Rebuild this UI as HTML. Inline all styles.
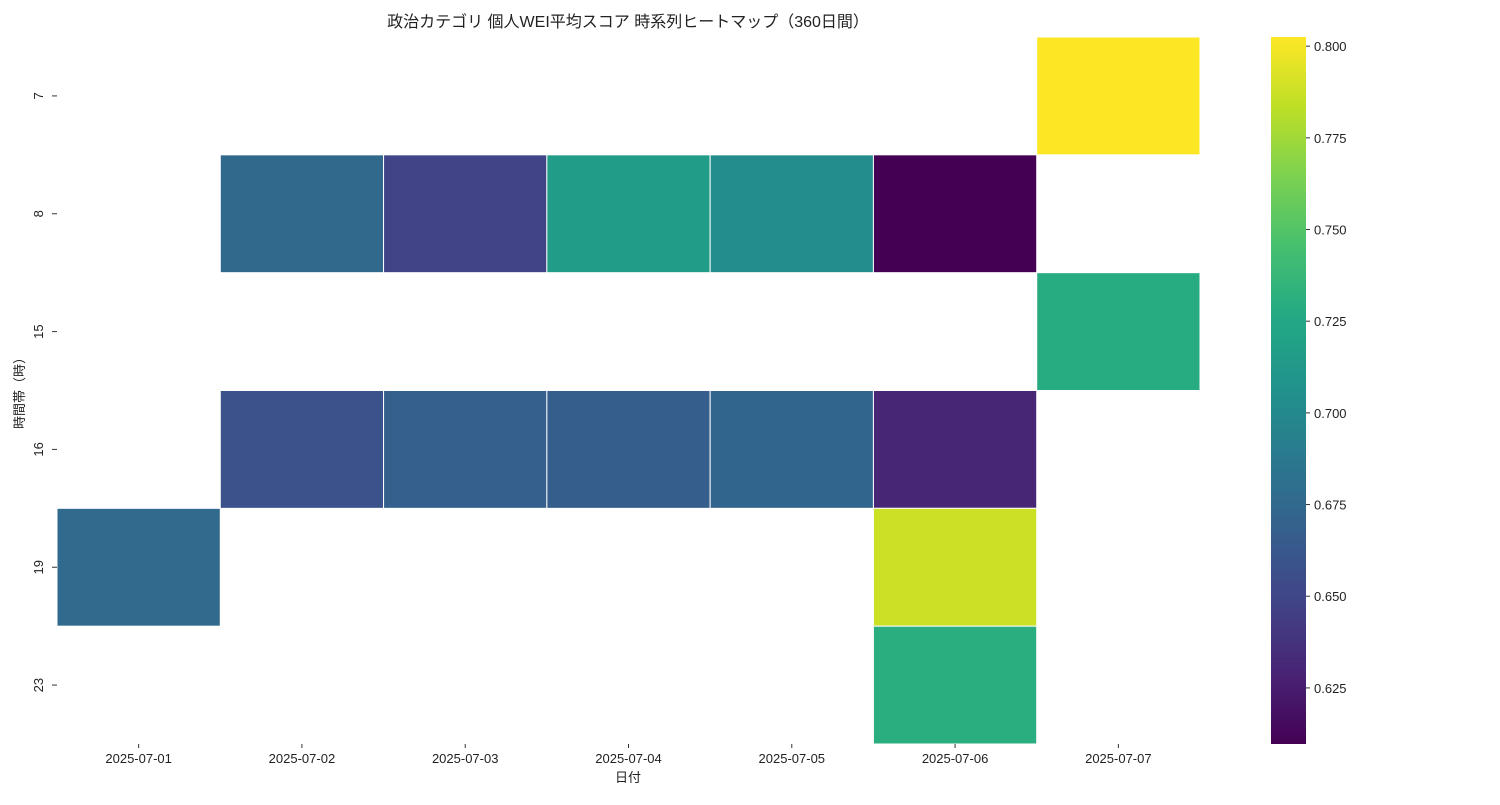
<!DOCTYPE html>
<html><head><meta charset="utf-8">
<style>
body{margin:0;background:#fff;font-family:"Liberation Sans","Noto Sans CJK JP",sans-serif;}
svg text{font-family:"Liberation Sans","Noto Sans CJK JP",sans-serif;fill:#222;}
</style></head>
<body>
<svg id="chart" width="1500" height="800" xmlns="http://www.w3.org/2000/svg">
<defs>
<linearGradient id="vir" x1="0" y1="1" x2="0" y2="0">
<stop offset="0" stop-color="#440154"/><stop offset="0.1" stop-color="#482475"/><stop offset="0.2" stop-color="#414487"/><stop offset="0.3" stop-color="#355f8d"/><stop offset="0.4" stop-color="#2a788e"/><stop offset="0.5" stop-color="#21918c"/><stop offset="0.6" stop-color="#22a884"/><stop offset="0.7" stop-color="#44bf70"/><stop offset="0.8" stop-color="#7ad151"/><stop offset="0.9" stop-color="#bddf26"/><stop offset="1" stop-color="#fde725"/>
</linearGradient>
</defs>
<text x="628" y="27" font-size="16" text-anchor="middle">政治カテゴリ 個人WEI平均スコア 時系列ヒートマップ（360日間）</text>
<g id="cells"></g>
<g id="axes"></g>
<text x="628" y="782" font-size="13" text-anchor="middle">日付</text>
<text transform="translate(24,390) rotate(-90)" font-size="13" text-anchor="middle">時間帯（時）</text>
<rect x="1271" y="37" width="35" height="707" fill="url(#vir)"/>
<g id="cbar"></g>
</svg>
<script>
const dates=["2025-07-01","2025-07-02","2025-07-03","2025-07-04","2025-07-05","2025-07-06","2025-07-07"];
const hours=["7","8","15","16","19","23"];
const cellDate=[6,1,2,3,4,5,6,1,2,3,4,5,0,5,5];
const cellHour=[0,1,1,1,1,1,2,3,3,3,3,3,4,4,5];
const cellVal=[0.8025,0.675,0.648,0.715,0.703,0.6097,0.728,0.658,0.668,0.667,0.672,0.630,0.676,0.787,0.730];
const cbarTicks=[0.625,0.650,0.675,0.700,0.725,0.750,0.775,0.800];
const vmin=0.6097,vmax=0.8025;
const X0=57,X1=1200,Y0=37,Y1=744;
const cw=(X1-X0)/dates.length,ch=(Y1-Y0)/hours.length;
const xs=i=>X0+i*cw, ys=j=>Y0+j*ch;
const cy=v=>Y1-(v-vmin)/(vmax-vmin)*(Y1-Y0);
const stops=["#440154","#482475","#414487","#355f8d","#2a788e","#21918c","#22a884","#44bf70","#7ad151","#bddf26","#fde725"];
function hex(h){return [1,3,5].map(i=>parseInt(h.substr(i,2),16));}
function color(v){let t=Math.max(0,Math.min(1,(v-vmin)/(vmax-vmin)))*10;let i=Math.min(9,Math.floor(t)),f=t-i;const a=hex(stops[i]),b=hex(stops[i+1]);return "rgb("+a.map((c,k)=>Math.round(c+(b[k]-c)*f)).join(",")+")";}
const NS="http://www.w3.org/2000/svg";
const cells=document.getElementById("cells"),axes=document.getElementById("axes"),cb=document.getElementById("cbar");
cellVal.forEach((v,k)=>{const r=document.createElementNS(NS,"rect");


r.setAttribute("x",xs(cellDate[k]));r.setAttribute("y",ys(cellHour[k]));r.setAttribute("width",cw);r.setAttribute("height",ch);r.setAttribute("fill",color(v));r.setAttribute("stroke","#fff");r.setAttribute("stroke-width","1");cells.appendChild(r);});
dates.forEach((d,i)=>{const t=document.createElementNS(NS,"text");


t.setAttribute("x",xs(i)+cw/2);t.setAttribute("y",763);t.setAttribute("font-size","13");t.setAttribute("text-anchor","middle");t.textContent=d;axes.appendChild(t);
const l=document.createElementNS(NS,"line");


l.setAttribute("x1",xs(i)+cw/2);l.setAttribute("x2",xs(i)+cw/2);l.setAttribute("y1",744);l.setAttribute("y2",748);l.setAttribute("stroke","#333");axes.appendChild(l);});
hours.forEach((h,j)=>{const y=ys(j)+ch/2;const t=document.createElementNS(NS,"text");


t.setAttribute("transform","translate(43,"+y+") rotate(-90)");t.setAttribute("font-size","13");t.setAttribute("text-anchor","middle");t.textContent=h;axes.appendChild(t);
const l=document.createElementNS(NS,"line");


l.setAttribute("x1",52);l.setAttribute("x2",57);l.setAttribute("y1",y);l.setAttribute("y2",y);l.setAttribute("stroke","#333");axes.appendChild(l);});
cbarTicks.forEach(v=>{const y=cy(v);const l=document.createElementNS(NS,"line");


l.setAttribute("x1",1306);l.setAttribute("x2",1310);l.setAttribute("y1",y);l.setAttribute("y2",y);l.setAttribute("stroke","#333");cb.appendChild(l);
const t=document.createElementNS(NS,"text");


t.setAttribute("x",1314);t.setAttribute("y",y+5);t.setAttribute("font-size","13");t.textContent=v.toFixed(3);cb.appendChild(t);});
</script>
</body></html>
